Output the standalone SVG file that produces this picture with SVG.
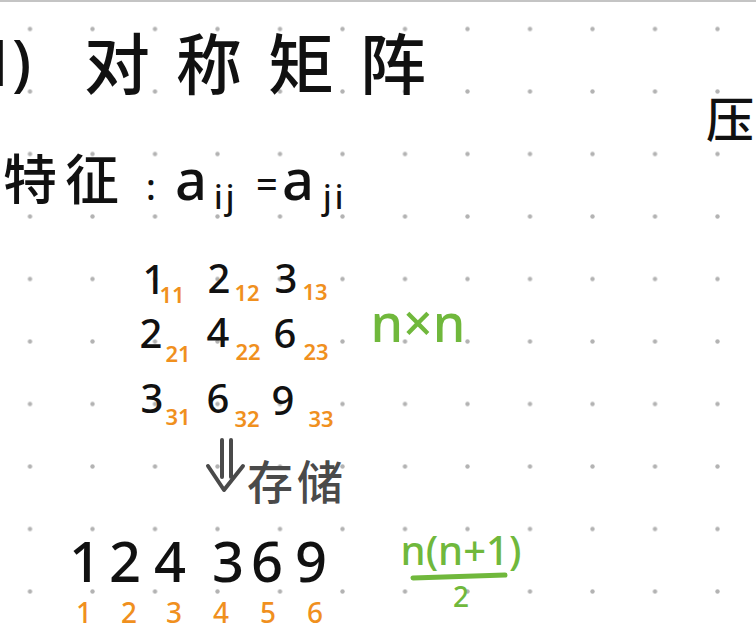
<svg xmlns="http://www.w3.org/2000/svg" width="756" height="638" viewBox="0 0 756 638">
<defs>
<pattern id="dots" patternUnits="userSpaceOnUse" x="-1.25" y="-2.25" width="62.5" height="62.5">
<circle cx="31.25" cy="31.25" r="2.2" fill="#b3b3b3"/>
</pattern>
<style>
.cjk{font-family:"Noto Sans CJK SC","Noto Sans",sans-serif;font-weight:500}
.lat{font-family:"Noto Sans","DejaVu Sans",sans-serif;font-weight:500}
.k{fill:#111}
.o{fill:#f0901e}
.g{fill:#70b83c}
.d{fill:#4a4a4a}
.m{font-size:40px;text-anchor:middle}
.s{font-size:22px;text-anchor:middle;font-weight:600}
.b{font-size:56px;text-anchor:middle}
.bo{font-size:28px;text-anchor:middle}
</style>
</defs>
<rect width="756" height="638" fill="#ffffff"/>
<rect width="756" height="638" fill="url(#dots)"/>
<rect x="0" y="0" width="756" height="2" fill="#c4c4c4"/>

<g id="title">
<text class="lat k" x="-21" y="86" font-size="64">1</text>
<text class="lat k" x="12" y="84" font-size="62">)</text>
<text class="cjk k" x="84" y="89" font-size="66" letter-spacing="26">对称矩阵</text>
</g>

<g id="ya">
<text class="cjk k" x="706" y="137" font-size="48">压</text>
</g>

<g id="feature">
<text class="cjk k" x="3" y="200" font-size="54" letter-spacing="8">特征</text>
<text class="lat k" x="146" y="200" font-size="36">:</text>
<text class="lat k" x="175" y="200" font-size="56">a</text>
<text class="lat k" x="214" y="209" font-size="32" letter-spacing="3">ij</text>
<text class="lat k" x="256" y="198" font-size="38">=</text>
<text class="lat k" x="282" y="200" font-size="56">a</text>
<text class="lat k" x="323" y="209" font-size="32" letter-spacing="3">ji</text>
</g>

<g id="matrix">
<text class="lat k m" x="154" y="294">1</text>
<text class="lat k m" x="219" y="293">2</text>
<text class="lat k m" x="286" y="293">3</text>
<text class="lat k m" x="151" y="348">2</text>
<text class="lat k m" x="218" y="347">4</text>
<text class="lat k m" x="285" y="348">6</text>
<text class="lat k m" x="152" y="413">3</text>
<text class="lat k m" x="218" y="413">6</text>
<text class="lat k m" x="283" y="415">9</text>
<text class="lat o s" x="172" y="303">11</text>
<text class="lat o s" x="247" y="301">12</text>
<text class="lat o s" x="315" y="300">13</text>
<text class="lat o s" x="178" y="362">21</text>
<text class="lat o s" x="248" y="360">22</text>
<text class="lat o s" x="316" y="360">23</text>
<text class="lat o s" x="178" y="425">31</text>
<text class="lat o s" x="247" y="427">32</text>
<text class="lat o s" x="321" y="427">33</text>
</g>

<g id="nxn">
<text class="lat g" x="418" y="342" font-size="52" text-anchor="middle">n×n</text>
</g>

<g id="connectors">
<path d="M222 440 V477 M231 440 V477 M208 466 L224 490 L243 466" fill="none" stroke="#4a4a4a" stroke-width="4" stroke-linecap="round" stroke-linejoin="round"/>
</g>

<g id="store">
<text class="cjk d" x="247" y="499" font-size="46" letter-spacing="4">存储</text>
</g>

<g id="array">
<text class="lat k b" x="85" y="582">1</text>
<text class="lat k b" x="125" y="582">2</text>
<text class="lat k b" x="170" y="582">4</text>
<text class="lat k b" x="228" y="582">3</text>
<text class="lat k b" x="267" y="582">6</text>
<text class="lat k b" x="311" y="582">9</text>
<text class="lat o bo" x="84" y="623">1</text>
<text class="lat o bo" x="129" y="623">2</text>
<text class="lat o bo" x="174" y="623">3</text>
<text class="lat o bo" x="221" y="623">4</text>
<text class="lat o bo" x="268" y="623">5</text>
<text class="lat o bo" x="315" y="623">6</text>
</g>

<g id="formula">
<text class="lat g" x="461" y="565" font-size="40" text-anchor="middle">n(n+1)</text>
<path d="M413 578 L505 575" stroke="#70b83c" stroke-width="5" stroke-linecap="round" fill="none"/>
<text class="lat g" x="461" y="607" font-size="28" text-anchor="middle">2</text>
</g>
</svg>
